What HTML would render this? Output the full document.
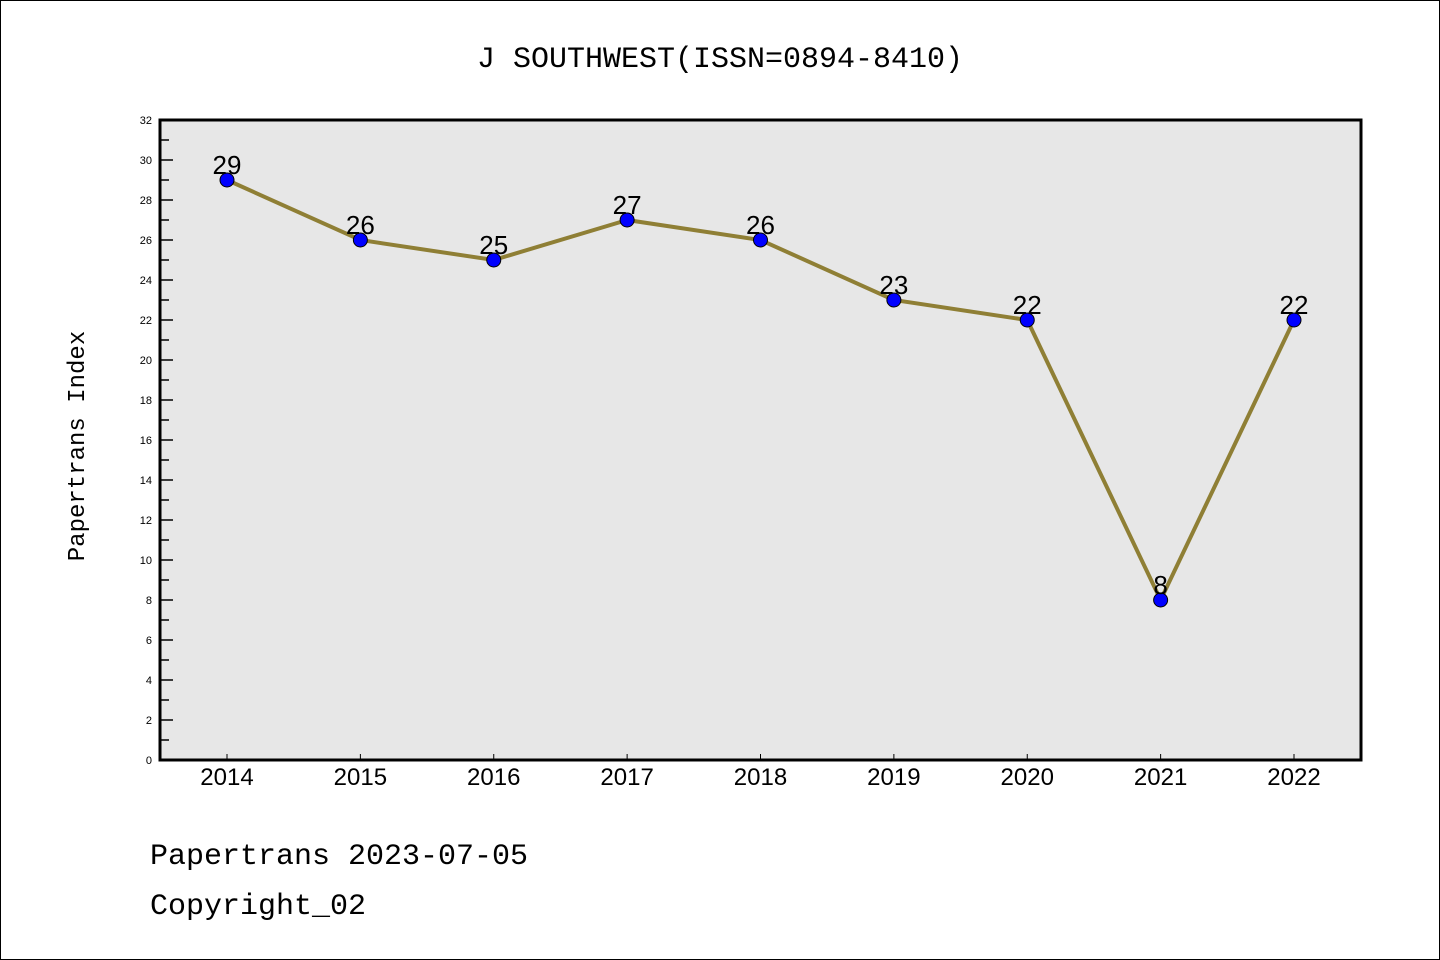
<!DOCTYPE html>
<html><head><meta charset="utf-8"><style>html,body{margin:0;padding:0;background:#fff}svg{display:block}</style></head>
<body>
<svg id="chart" width="1440" height="960" xmlns="http://www.w3.org/2000/svg" font-family="'Liberation Sans', 'WenQuanYi Zen Hei', sans-serif">
<rect x="0.5" y="0.5" width="1439" height="959" fill="#fff" stroke="#000"/>
<text x="720" y="67" font-size="30" text-anchor="middle" font-family="'WenQuanYi Zen Hei', 'Liberation Mono', monospace">J SOUTHWEST(ISSN=0894-8410)</text>
<rect x="160" y="120" width="1201" height="640" fill="#e7e7e7"/>
<g id="ticks"></g>
<g id="series"></g>
<rect x="160" y="120" width="1201" height="640" fill="none" stroke="#000" stroke-width="3"/>
<text transform="translate(84,446) rotate(-90)" font-size="24" text-anchor="middle" font-family="'WenQuanYi Zen Hei', 'Liberation Mono', monospace">Papertrans Index</text>
<text x="150" y="864" font-size="30" font-family="'WenQuanYi Zen Hei', 'Liberation Mono', monospace">Papertrans 2023-07-05</text>
<text x="150" y="914" font-size="30" font-family="'WenQuanYi Zen Hei', 'Liberation Mono', monospace">Copyright_02</text>
</svg>
<script>
const years = ["2014","2015","2016","2017","2018","2019","2020","2021","2022"];
const values = [29,26,25,27,26,23,22,8,22];
const yTicks = [0,2,4,6,8,10,12,14,16,18,20,22,24,26,28,30,32];
const NS="http://www.w3.org/2000/svg";
const x0=227,dx=(1294-227)/(years.length-1);
const xs=i=>x0+i*dx;
const ys=v=>760-v*20;
function mk(t,a,p){const e=document.createElementNS(NS,t);for(const k in a)e.setAttribute(k,a[k]);p.appendChild(e);return e;}
const tg=document.getElementById('ticks');
yTicks.forEach(v=>{
  const l=mk('line',{x1:160,x2:173,y1:ys(v),y2:ys(v),stroke:'#000','stroke-width':1.5},tg);
  
  
  const t=mk('text',{x:152,y:ys(v)+4,'font-size':11,'text-anchor':'end'},tg);
  t.textContent=v;
  
  
  if(v<32){const m=mk('line',{x1:160,x2:169,y1:ys(v+1),y2:ys(v+1),stroke:'#000','stroke-width':1.5},tg);
  
  }
});
years.forEach((y,i)=>{
  const l=mk('line',{x1:xs(i),x2:xs(i),y1:760,y2:754,stroke:'#000','stroke-width':1},tg);
  
  
  const t=mk('text',{x:xs(i),y:785,'font-size':24,'text-anchor':'middle'},tg);
  t.textContent=y;
  
  
});
const sg=document.getElementById('series');
const pl=mk('polyline',{points:values.map((v,i)=>xs(i)+','+ys(v)).join(' '),fill:'none',stroke:'#8f7f35','stroke-width':4},sg);


values.forEach((v,i)=>{
  const c=mk('circle',{cx:xs(i),cy:ys(v),r:7,fill:'#0000ff',stroke:'#000','stroke-width':1},sg);
  
  
  const t=mk('text',{x:xs(i),y:ys(v)-6,'font-size':26,'text-anchor':'middle'},sg);
  t.textContent=v;
  
  
});
</script>
</body></html>
